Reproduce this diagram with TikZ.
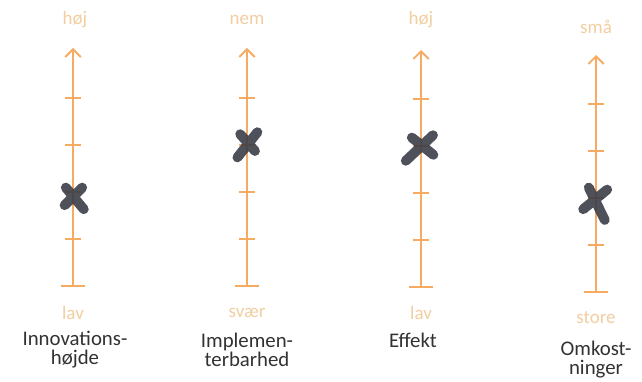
\documentclass[tikz,border=0pt]{standalone}
\usepackage{fontspec}
\setmainfont{Carlito}
\usetikzlibrary{arrows.meta}
\definecolor{axisorange}{RGB}{246,170,98}
\definecolor{labeltan}{RGB}{242,206,160}
\definecolor{crossgray}{RGB}{55,58,68}
\definecolor{nametext}{RGB}{50,50,50}

\begin{document}
\begin{tikzpicture}[
	axisline/.style={axisorange, line width=1.3pt, -{Straight Barb[length=5.5pt,width=11pt]}},
	tickmark/.style={axisorange, line width=1pt},
	crossstroke/.style={crossgray, line width=7pt, line cap=round, draw opacity=0.88},
	scalelabel/.style={labeltan, font=\fontsize{13.5}{14}\selectfont},
	axisname/.style={nametext, align=center, font=\fontsize{14.8}{13.5}\selectfont}]
	\fill[white] (0,0) rectangle (16.05,9.525);
	\useasboundingbox (0,0) rectangle (16.05,9.525);
	% Innovationshoejde
	\begin{scope}[xshift=1.825cm]
		\coordinate (base1) at (0,2.375);
		\coordinate (tip1) at (0,8.325);
		\draw[axisline] (base1) -- (tip1);
		\draw[tickmark] (-0.3,2.375) -- (0.3,2.375);
		\foreach \k in {1,...,4}
			\draw[tickmark] (-0.2,2.375+1.175*\k) -- (0.2,2.375+1.175*\k);
		\draw[crossstroke] (-0.18,4.575+0.26) -- (0.27,4.575-0.28) (0.23,4.575+0.26) -- (-0.21,4.575-0.18);
		\node[scalelabel] (top1) at (0.05,9.025) {høj};
		\node[scalelabel] (bot1) at (0,1.7) {lav};
		\node[axisname] (name1) at (0.05,0.775) {Innovations-\\højde};
	\end{scope}
	% Implementerbarhed
	\begin{scope}[xshift=6.175cm]
		\coordinate (base2) at (0,2.375);
		\coordinate (tip2) at (0,8.325);
		\draw[axisline] (base2) -- (tip2);
		\draw[tickmark] (-0.3,2.375) -- (0.3,2.375);
		\foreach \k in {1,...,4}
			\draw[tickmark] (-0.2,2.375+1.175*\k) -- (0.2,2.375+1.175*\k);
		\draw[crossstroke] (0.26,5.95+0.27) -- (-0.24,5.95-0.36) (-0.17,5.95+0.22) -- (0.2,5.95-0.2);
		\node[scalelabel] (top2) at (0,9.025) {nem};
		\node[scalelabel] (bot2) at (0,1.7) {svær};
		\node[axisname] (name2) at (0,0.775) {Implemen-\\terbarhed};
	\end{scope}
	% Effekt
	\begin{scope}[xshift=10.525cm]
		\coordinate (base3) at (0,2.35);
		\coordinate (tip3) at (0,8.275);
		\draw[axisline] (base3) -- (tip3);
		\draw[tickmark] (-0.3,2.35) -- (0.3,2.35);
		\foreach \k in {1,...,4}
			\draw[tickmark] (-0.2,2.35+1.175*\k) -- (0.2,2.35+1.175*\k);
		\draw[crossstroke] (0.3,5.825+0.32) -- (-0.38,5.825-0.32) (-0.23,5.825+0.26) -- (0.31,5.825-0.17);
		\node[scalelabel] (top3) at (0,9.025) {høj};
		\node[scalelabel] (bot3) at (0,1.7) {lav};
		\node[axisname] (name3) at (-0.2,1.025) {Effekt};
	\end{scope}
	% Omkostninger
	\begin{scope}[xshift=14.9cm]
		\coordinate (base4) at (0,2.225);
		\coordinate (tip4) at (0,8.15);
		\draw[axisline] (base4) -- (tip4);
		\draw[tickmark] (-0.3,2.225) -- (0.3,2.225);
		\foreach \k in {1,...,4}
			\draw[tickmark] (-0.2,2.225+1.175*\k) -- (0.2,2.225+1.175*\k);
		\draw[crossstroke] (0.28,4.525+0.26) -- (-0.32,4.525-0.23) (-0.18,4.525+0.31) -- (0.22,4.525-0.5);
		\node[scalelabel] (top4) at (0,8.85) {små};
		\node[scalelabel] (bot4) at (0,1.575) {store};
		\node[axisname] (name4) at (0,0.5375) {Omkost-\\ninger};
	\end{scope}
\end{tikzpicture}
\end{document}
